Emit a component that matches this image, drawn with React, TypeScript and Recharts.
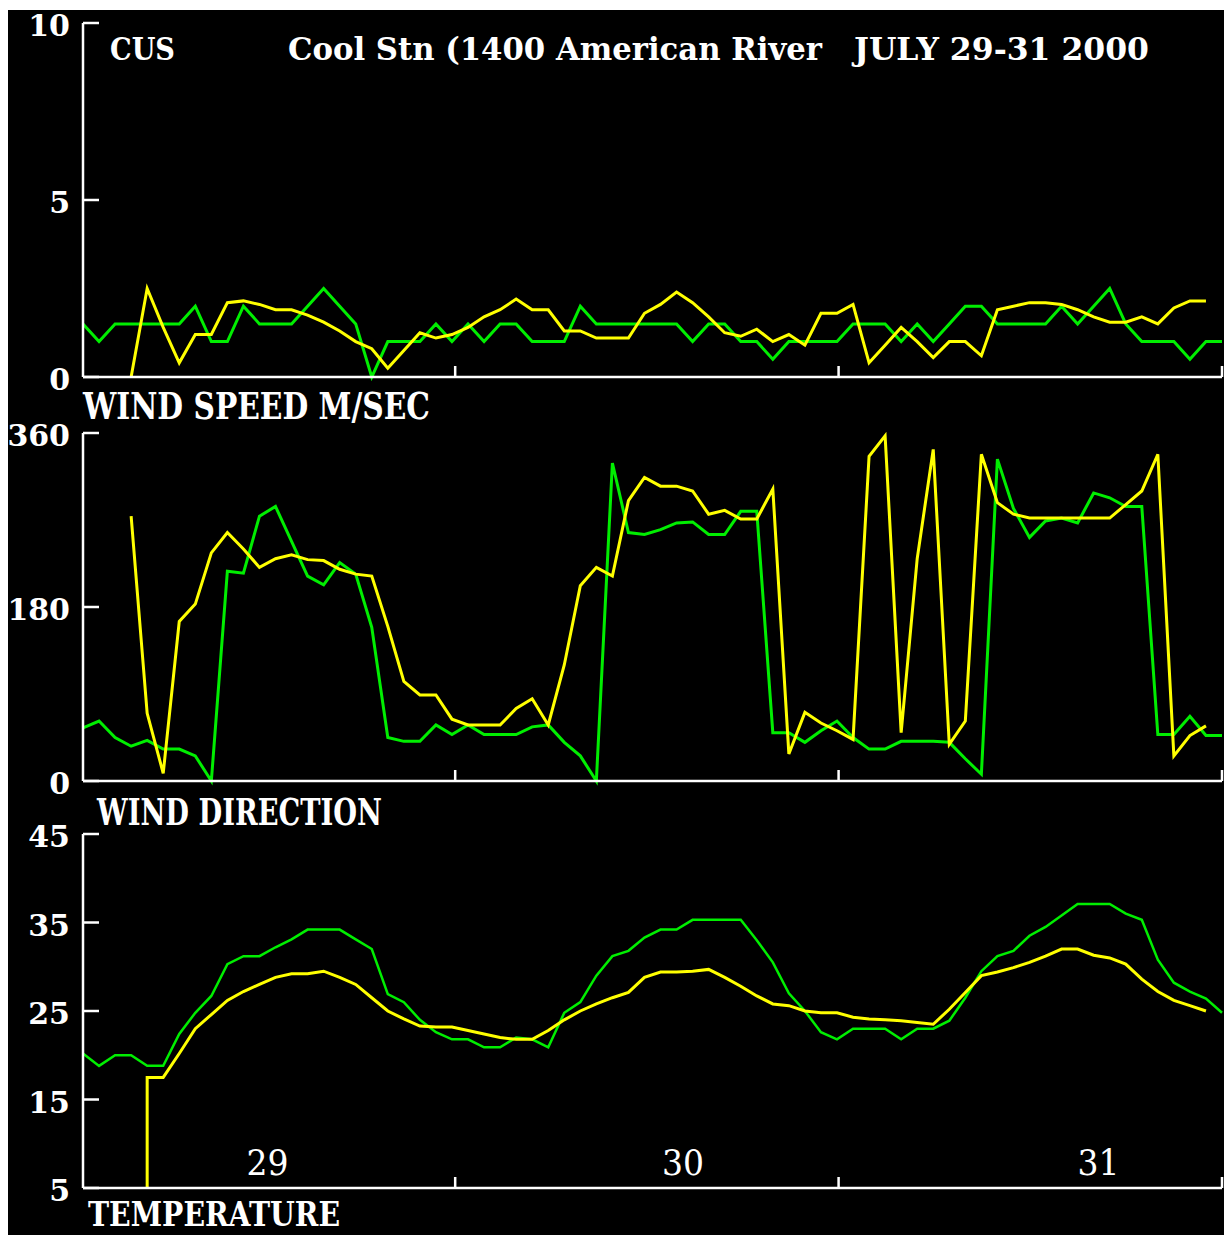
import { LineChart, Line, XAxis, YAxis } from "recharts"

const GREEN = "#00ee00"
const YELLOW = "#ffff00"
const FONT = "DejaVu Serif"

// hourly samples, hour 0 .. 71
const speedGreen = [
  1.5, 1.0, 1.5, 1.5, 1.5, 1.5, 1.5, 2.0, 1.0, 1.0,
  2.0, 1.5, 1.5, 1.5, 2.0, 2.5, 2.0, 1.5, 0, 1.0,
  1.0, 1.0, 1.5, 1.0, 1.5, 1.0, 1.5, 1.5, 1.0, 1.0,
  1.0, 2.0, 1.5, 1.5, 1.5, 1.5, 1.5, 1.5, 1.0, 1.5,
  1.5, 1.0, 1.0, 0.5, 1.0, 1.0, 1.0, 1.0, 1.5, 1.5,
  1.5, 1.0, 1.5, 1.0, 1.5, 2.0, 2.0, 1.5, 1.5, 1.5,
  1.5, 2.0, 1.5, 2.0, 2.5, 1.5, 1.0, 1.0, 1.0, 0.5,
  1.0, 1.0,
]
const speedYellow = [
  null, null, null, 0, 2.5, 1.4, 0.4, 1.2, 1.2, 2.1,
  2.15, 2.05, 1.9, 1.9, 1.75, 1.55, 1.3, 1.0, 0.8, 0.25,
  0.75, 1.25, 1.1, 1.2, 1.4, 1.7, 1.9, 2.2, 1.9, 1.9,
  1.3, 1.3, 1.1, 1.1, 1.1, 1.8, 2.05, 2.4, 2.1, 1.7,
  1.25, 1.15, 1.35, 1.0, 1.2, 0.9, 1.8, 1.8, 2.05, 0.4,
  0.9, 1.4, 1.0, 0.55, 1.0, 1.0, 0.6, 1.9, 2.0, 2.1,
  2.1, 2.05, 1.9, 1.7, 1.55, 1.55, 1.7, 1.5, 1.95, 2.15,
  2.15, null,
]
const dirGreen = [
  55, 62, 45, 36, 42, 33, 33, 26, 0, 217,
  215, 274, 284, 248, 212, 203, 226, 214, 159, 45,
  41, 41, 58, 48, 58, 48, 48, 48, 56, 58,
  40, 26, 0, 329, 257, 255, 260, 267, 268, 255,
  255, 279, 279, 50, 50, 40, 52, 62, 45, 33,
  33, 41, 41, 41, 40, 23, 7, 333, 282, 252,
  269, 272, 267, 298, 293, 284, 284, 48, 48, 67,
  47, 47,
]
const dirYellow = [
  null, null, null, 274, 70, 8, 165, 183, 236, 257,
  240, 221, 230, 234, 229, 228, 219, 214, 212, 160,
  103, 89, 89, 64, 58, 58, 58, 75, 85, 58,
  120, 202, 221, 212, 290, 314, 305, 305, 300, 276,
  280, 271, 271, 302, 28, 71, 60, 52, 43, 336,
  357, 50, 230, 343, 38, 62, 338, 288, 276, 272,
  272, 272, 272, 272, 272, 286, 300, 338, 26, 47,
  57, null,
]
const tempGreen = [
  20.2, 18.8, 20.0, 20.0, 18.8, 18.8, 22.4, 24.8, 26.7, 30.3,
  31.2, 31.2, 32.2, 33.1, 34.2, 34.2, 34.2, 33.1, 32.0, 26.9,
  26.0, 24.0, 22.6, 21.8, 21.8, 20.9, 20.9, 22.0, 21.8, 20.9,
  24.8, 26.0, 29.0, 31.2, 31.8, 33.3, 34.2, 34.2, 35.3, 35.3,
  35.3, 35.3, 33.0, 30.5, 27.0, 25.0, 22.6, 21.8, 23.0, 23.0,
  23.0, 21.8, 23.0, 23.0, 23.9, 26.5, 29.5, 31.2, 31.8, 33.5,
  34.5, 35.8, 37.1, 37.1, 37.1, 36.0, 35.3, 30.8, 28.2, 27.2,
  26.4, 24.8,
]
const tempYellow = [
  null, null, null, null, 17.5, 17.5, 20.2, 23.0, 24.6, 26.2,
  27.2, 28.0, 28.8, 29.2, 29.2, 29.5, 28.8, 28.0, 26.5, 25.0,
  24.1, 23.3, 23.2, 23.2, 22.8, 22.4, 22.0, 21.8, 21.8, 22.8,
  24.0, 25.0, 25.8, 26.5, 27.1, 28.8, 29.4, 29.4, 29.5, 29.7,
  28.8, 27.8, 26.7, 25.8, 25.6, 25.0, 24.8, 24.8, 24.3, 24.1,
  24.0, 23.9, 23.7, 23.5, 25.2, 27.1, 29.0, 29.4, 29.9, 30.5,
  31.2, 32.0, 32.0, 31.3, 31.0, 30.3, 28.6, 27.2, 26.2, 25.6,
  25.0, null,
]
// yellow temperature trace rises straight up from the axis floor at its first hour
const tempYellowLead = { hour: 4, value: 5 }

const midnightHours = [23.2, 47.1, 71]
const dayLabelHours = [11.5, 37.4, 63.3]
const dayLabels = ["29", "30", "31"]

const speedTicks = [0, 5, 10]
const dirTicks = [0, 180, 360]
const tempTicks = [5, 15, 25, 35, 45]

const hours = speedGreen.map((_, i) => i)
const speedRows = hours.map((h) => ({ hour: h, a: speedGreen[h], b: speedYellow[h] }))
const dirRows = hours.map((h) => ({ hour: h, a: dirGreen[h], b: dirYellow[h] }))
const tempRows = hours.map((h) => ({ hour: h, a: tempGreen[h] }))
const tempYellowRows = [
  { hour: tempYellowLead.hour, b: tempYellowLead.value },
  ...hours.filter((h) => tempYellow[h] != null).map((h) => ({ hour: h, b: tempYellow[h] })),
]

const axisStroke = { stroke: "#fff", strokeWidth: 2.5 }

function YTick({ x, y, payload }: any) {
  return (
    <g>
      <line x1={x} x2={x + 16} y1={y} y2={y} stroke="#fff" strokeWidth={2.5} />
      <text x={x - 13} y={y + 13} textAnchor="end" fill="#fff" fontFamily={FONT} fontWeight="bold" fontSize={30}>
        {payload.value}
      </text>
    </g>
  )
}

function XTick({ x, y, payload }: any) {
  const d = dayLabelHours.indexOf(payload.value)
  if (d >= 0) {
    return (
      <text x={x} y={y - 13} textAnchor="middle" fill="#fff" fontFamily={FONT} fontSize={36}
        textLength={42} lengthAdjust="spacingAndGlyphs">
        {dayLabels[d]}
      </text>
    )
  }
  return <line x1={x} x2={x} y1={y} y2={y - 11} stroke="#fff" strokeWidth={2.5} />
}

function Panel({ top, plotHeight, data, domain, ticks, xTicks, children }: any) {
  return (
    <div style={{ position: "absolute", left: 0, top: top - 20 }}>
      <LineChart width={1216} height={plotHeight + 40} data={data}
        margin={{ top: 20, right: 2, left: 0, bottom: 0 }}>
        <XAxis dataKey="hour" type="number" domain={[0, 71]} ticks={xTicks} interval={0}
          axisLine={axisStroke} tickLine={false} tickSize={0} tickMargin={0} height={20} tick={<XTick />} />
        <YAxis type="number" domain={domain} ticks={ticks} interval={0} width={75}
          axisLine={axisStroke} tickLine={false} tickSize={0} tickMargin={0} tick={<YTick />} />
        {children}
      </LineChart>
    </div>
  )
}

const label = { fill: "#fff", fontFamily: FONT, fontWeight: "bold" as const, lengthAdjust: "spacingAndGlyphs" }

export default function App() {
  return (
    <>
      <style>{"html,body{margin:0;overflow:hidden;background:#fff}"}</style>
      <div style={{ position: "absolute", left: 8, top: 10, width: 1216, height: 1225, background: "#000" }}>
        <Panel top={13} plotHeight={354} data={speedRows} domain={[0, 10]} ticks={speedTicks} xTicks={midnightHours}>
          <Line type="linear" dataKey="a" stroke={GREEN} strokeWidth={3} dot={false} isAnimationActive={false} />
          <Line type="linear" dataKey="b" stroke={YELLOW} strokeWidth={3} dot={false} isAnimationActive={false} />
        </Panel>
        <Panel top={423} plotHeight={348} data={dirRows} domain={[0, 360]} ticks={dirTicks} xTicks={midnightHours}>
          <Line type="linear" dataKey="a" stroke={GREEN} strokeWidth={3} dot={false} isAnimationActive={false} />
          <Line type="linear" dataKey="b" stroke={YELLOW} strokeWidth={3} dot={false} isAnimationActive={false} />
        </Panel>
        <Panel top={824} plotHeight={354} data={tempRows} domain={[5, 45]} ticks={tempTicks}
          xTicks={[...dayLabelHours, ...midnightHours]}>
          <Line type="linear" dataKey="a" stroke={GREEN} strokeWidth={2.5} dot={false} isAnimationActive={false} />
          <Line type="linear" data={tempYellowRows} dataKey="b" stroke={YELLOW} strokeWidth={3} dot={false}
            isAnimationActive={false} />
        </Panel>
        <svg width={1216} height={1225} style={{ position: "absolute", left: 0, top: 0, pointerEvents: "none" }}>
          <text x={102} y={50} fontSize={31} textLength={65} {...label}>CUS</text>
          <text x={280} y={50} fontSize={31} textLength={534} {...label}>Cool Stn (1400 American River</text>
          <text x={846} y={50} fontSize={31} textLength={295} {...label}>JULY 29-31 2000</text>
          <text x={75} y={409} fontSize={37} textLength={347} {...label}>WIND SPEED M/SEC</text>
          <text x={89} y={815} fontSize={37} textLength={285} {...label}>WIND DIRECTION</text>
          <text x={80} y={1216} fontSize={34} textLength={252} {...label}>TEMPERATURE</text>
        </svg>
      </div>
    </>
  )
}
